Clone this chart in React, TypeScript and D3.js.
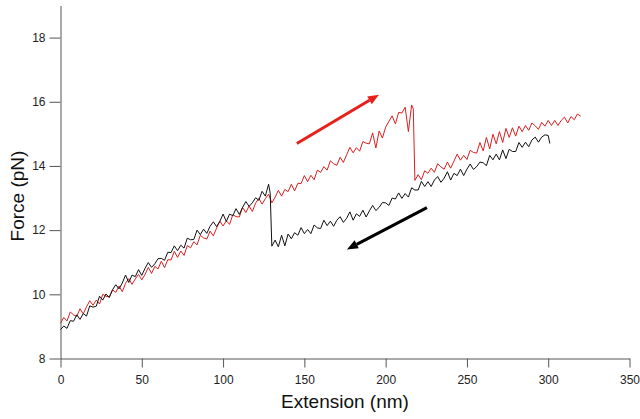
import React, { useEffect, useRef } from "react";
import * as d3 from "d3";

// stretching trace (red)
const redExt = [
  0, 2, 4, 6, 8, 10, 12, 14, 16, 18, 20, 22, 24, 26, 28, 30, 32, 34, 36, 38,
  40, 42, 44, 46, 48, 50, 52, 54, 56, 58, 60, 62, 64, 66, 68, 70, 72, 74, 76, 78,
  80, 82, 84, 86, 88, 90, 92, 94, 96, 98, 100, 102, 104, 106, 108, 110, 112, 114, 116, 118,
  120, 122, 124, 126, 128, 130, 132, 134, 136, 138, 140, 142, 144, 146, 148, 150, 152, 154, 156, 158,
  160, 162, 164, 166, 168, 170, 172, 174, 176, 178, 180, 182, 184, 186, 188, 190, 192, 194, 196, 198,
  200, 202, 204, 206, 208, 210, 212, 214, 216, 217, 218,
  220, 222, 224, 226, 228, 230, 232, 234, 236, 238, 240, 242, 244, 246, 248, 250, 252, 254, 256, 258,
  260, 262, 264, 266, 268, 270, 272, 274, 276, 278, 280, 282, 284, 286, 288, 290, 292, 294, 296, 298,
  300, 302, 304, 306, 308, 310, 312, 314, 316, 318, 320,
];
const redForce = [
  9.1, 9.28, 9.17, 9.45, 9.36, 9.31, 9.55, 9.39, 9.61, 9.8, 9.66, 9.82, 9.7, 10.0, 9.94, 9.92, 10.14, 10.06, 10.26, 10.08,
  10.34, 10.49, 10.31, 10.48, 10.62, 10.45, 10.62, 10.84, 10.65, 10.87, 10.79, 11.03, 10.83, 11.08, 11.07, 11.34, 11.15, 11.35, 11.21, 11.52,
  11.45, 11.64, 11.54, 11.84, 11.76, 11.72, 11.97, 11.82, 12.06, 12.28, 12.13, 12.29, 12.18, 12.48, 12.42, 12.41, 12.71, 12.55, 12.75, 12.58,
  12.84, 12.99, 12.81, 12.98, 13.12, 12.85, 13.03, 13.24, 13.06, 13.27, 13.2, 13.43, 13.22, 13.46, 13.45, 13.7, 13.51, 13.71, 13.57, 13.87,
  13.8, 13.98, 13.87, 14.16, 14.07, 14.02, 14.27, 14.11, 14.35, 14.58, 14.41, 14.57, 14.46, 14.76, 14.71, 14.69, 15.03, 14.56, 15.09, 14.87,
  15.21, 15.39, 15.56, 15.31, 15.67, 15.65, 15.83, 15.07, 15.9, 15.78, 13.55,
  13.73, 13.57, 13.85, 13.77, 13.93, 13.8, 14.07, 13.97, 13.9, 14.12, 13.93, 14.15, 14.37, 14.18, 14.33, 14.2, 14.49, 14.42, 14.4, 14.73,
  14.47, 14.89, 14.53, 14.99, 14.69, 15.07, 14.73, 15.17, 14.89, 15.19, 14.93, 15.24, 15.07, 15.26, 15.11, 15.34, 15.25, 15.14, 15.36, 15.24,
  15.42, 15.26, 15.42, 15.26, 15.42, 15.52, 15.34, 15.54, 15.44, 15.62, 15.55,
];

// relaxing trace (black)
const blackExt = [
  0, 2, 4, 6, 8, 10, 12, 14, 16, 18, 20, 22, 24, 26, 28, 30, 32, 34, 36, 38,
  40, 42, 44, 46, 48, 50, 52, 54, 56, 58, 60, 62, 64, 66, 68, 70, 72, 74, 76, 78,
  80, 82, 84, 86, 88, 90, 92, 94, 96, 98, 100, 102, 104, 106, 108, 110, 112, 114, 116, 118,
  120, 122, 124, 126, 128, 129, 130,
  132, 134, 136, 138, 140, 142, 144, 146, 148, 150, 152, 154, 156, 158,
  160, 162, 164, 166, 168, 170, 172, 174, 176, 178, 180, 182, 184, 186, 188, 190, 192, 194, 196, 198,
  200, 202, 204, 206, 208, 210, 212, 214, 216, 218, 220, 222, 224, 226, 228, 230, 232, 234, 236, 238,
  240, 242, 244, 246, 248, 250, 252, 254, 256, 258, 260, 262, 264, 266, 268, 270, 272, 274, 276, 278,
  280, 282, 284, 286, 288, 290, 292, 294, 296, 298, 300, 301,
];
const blackForce = [
  8.9, 9.01, 8.94, 9.18, 9.16, 9.36, 9.22, 9.4, 9.32, 9.64, 9.6, 9.63, 9.94, 9.82, 10.01, 9.9, 10.14, 10.3, 10.17, 10.35,
  10.6, 10.37, 10.6, 10.55, 10.77, 10.59, 10.81, 10.99, 10.84, 10.95, 11.11, 11.12, 11.06, 11.31, 11.3, 11.51, 11.36, 11.53, 11.44, 11.75,
  11.7, 11.71, 12.0, 11.86, 12.03, 11.9, 12.12, 12.26, 12.11, 12.27, 12.5, 12.27, 12.5, 12.45, 12.67, 12.49, 12.71, 12.89, 12.74, 12.85,
  13.01, 12.93, 13.21, 13.06, 13.43, 13.15, 11.5,
  11.69, 11.48, 11.84, 11.51, 11.88, 11.73, 11.92, 11.84, 12.08, 11.89, 12.02, 11.89, 12.16, 12.07,
  12.05, 12.31, 12.14, 12.28, 12.12, 12.31, 12.42, 12.24, 12.37, 12.57, 12.31, 12.51, 12.43, 12.62, 12.41, 12.6, 12.77, 12.61, 12.71, 12.86,
  12.85, 12.77, 13.0, 12.97, 13.16, 12.99, 13.14, 13.03, 13.32, 13.25, 13.25, 13.52, 13.36, 13.51, 13.36, 13.56, 13.67, 13.49, 13.62, 13.82,
  13.56, 13.77, 13.7, 13.9, 13.7, 13.9, 14.06, 13.89, 13.98, 14.12, 14.1, 14.01, 14.33, 14.19, 14.37, 14.19, 14.5, 14.23, 14.52, 14.45,
  14.45, 14.73, 14.58, 14.74, 14.6, 14.81, 14.9, 14.74, 14.9, 14.97, 14.95, 14.7,
];

// direction arrows: [x1, y1, x2, y2] in data units
const redArrow = [145.4, 14.7, 195.9, 16.22];
const blackArrow = [225.4, 12.7, 176.2, 11.4];

const xTicks = [0, 50, 100, 150, 200, 250, 300, 350];
const yTicks = [8, 10, 12, 14, 16, 18];

const App = () => {
  const ref = useRef<SVGSVGElement>(null);

  useEffect(() => {
    const svg = d3.select(ref.current);
    svg.selectAll("*").remove();

    const x = d3.scaleLinear().domain([0, 350]).range([60.5, 629.5]);
    const y = d3.scaleLinear().domain([8, 19]).range([358.5, 5.5]);

    const font = "Arial, 'Liberation Sans', sans-serif";

    const xAxis = svg.append("g")
      .attr("transform", "translate(0,358.5)")
      .call(d3.axisBottom(x).tickValues(xTicks).tickSize(9).tickSizeOuter(0).tickPadding(8));
    const yAxis = svg.append("g")
      .attr("transform", "translate(60.5,0)")
      .call(d3.axisLeft(y).tickValues(yTicks).tickSize(11).tickSizeOuter(0).tickPadding(4));

    for (const ax of [xAxis, yAxis]) {
      ax.selectAll("path, line").attr("stroke", "#555");
      ax.selectAll("text")
        .attr("font-family", font)
        .attr("font-size", 12)
        .attr("fill", "#222");
    }

    const line = d3.line<[number, number]>()
      .x(d => x(d[0]))
      .y(d => y(d[1]));

    const redPts = redExt.map((e, i) => [e, redForce[i]] as [number, number]);
    const blackPts = blackExt.map((e, i) => [e, blackForce[i]] as [number, number]);

    svg.append("path")
      .datum(redPts)
      .attr("d", line)
      .attr("fill", "none")
      .attr("stroke", "#dd1f1f")
      .attr("stroke-width", 1);

    svg.append("path")
      .datum(blackPts)
      .attr("d", line)
      .attr("fill", "none")
      .attr("stroke", "#111")
      .attr("stroke-width", 1);

    // arrows
    const drawArrow = (a: number[], color: string) => {
      const x1 = x(a[0]), y1 = y(a[1]), x2 = x(a[2]), y2 = y(a[3]);
      const ang = Math.atan2(y2 - y1, x2 - x1);
      const headLen = 11, headW = 4.5;
      const bx = x2 - headLen * Math.cos(ang), by = y2 - headLen * Math.sin(ang);
      svg.append("line")
        .attr("x1", x1).attr("y1", y1)
        .attr("x2", bx).attr("y2", by)
        .attr("stroke", color)
        .attr("stroke-width", 3);
      const px = -Math.sin(ang) * headW, py = Math.cos(ang) * headW;
      svg.append("path")
        .attr("d", `M${x2},${y2}L${bx + px},${by + py}L${bx - px},${by - py}Z`)
        .attr("fill", color);
    };
    drawArrow(redArrow, "#e8201c");
    drawArrow(blackArrow, "#000");

    // axis titles
    svg.append("text")
      .attr("x", 345)
      .attr("y", 408)
      .attr("text-anchor", "middle")
      .attr("font-family", font)
      .attr("font-size", 19)
      .attr("fill", "#111")
      .text("Extension (nm)");

    svg.append("text")
      .attr("transform", "translate(24,196) rotate(-90)")
      .attr("text-anchor", "middle")
      .attr("font-family", font)
      .attr("font-size", 19)
      .attr("fill", "#111")
      .text("Force (pN)");
  }, []);

  return (
    <svg
      ref={ref}
      width={640}
      height={419}
      style={{ position: "absolute", left: 0, top: 0, background: "#fff" }}
    />
  );
};

export default App;
